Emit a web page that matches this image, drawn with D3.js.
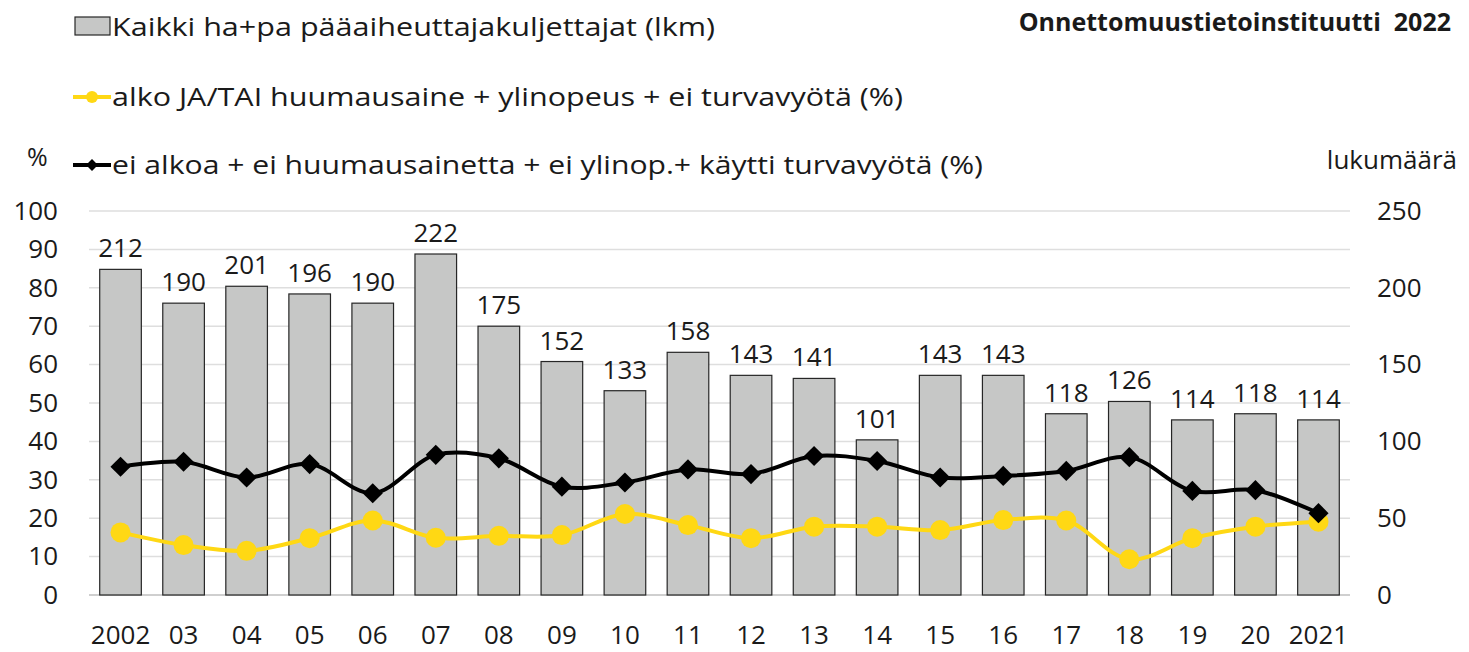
<!DOCTYPE html>
<html>
<head>
<meta charset="utf-8">
<script src="https://cdn.jsdelivr.net/npm/d3@7"></script>
<style>
  body { margin: 0; background: #fff; }
  text { font-family: "Open Sans", "Noto Sans", sans-serif; fill: #1a1a1a; }
</style>
</head>
<body>
<div id="chart"></div>
<script>
var years = ["2002", "03", "04", "05", "06", "07", "08", "09", "10", "11", "12", "13", "14", "15", "16", "17", "18", "19", "20", "2021"];
var counts = [212, 190, 201, 196, 190, 222, 175, 152, 133, 158, 143, 141, 101, 143, 143, 118, 126, 114, 118, 114];
var yellowPct = [16.3, 13.0, 11.5, 14.8, 19.4, 14.9, 15.4, 15.6, 21.1, 18.2, 14.8, 17.8, 17.8, 16.9, 19.5, 19.4, 9.3, 14.8, 17.8, 19.1];
var blackPct = [33.4, 34.7, 30.6, 34.1, 26.5, 36.5, 35.6, 28.2, 29.3, 32.7, 31.5, 36.2, 34.9, 30.6, 31.0, 32.3, 35.9, 27.1, 27.3, 21.3];
var leftTicks = [0, 10, 20, 30, 40, 50, 60, 70, 80, 90, 100];
var rightTicks = [0, 50, 100, 150, 200, 250];
var legendLabels = [
  "Kaikki ha+pa pääaiheuttajakuljettajat (lkm)",
  "alko JA/TAI huumausaine + ylinopeus + ei turvavyötä (%)",
  "ei alkoa + ei huumausainetta + ei ylinop.+ käytti turvavyötä (%)"
];

var fullwidth = 1469, fullheight = 652;
var margin = {top: 211, right: 119, bottom: 57, left: 89};
var width = fullwidth - margin.left - margin.right;
var height = fullheight - margin.top - margin.bottom;

var root = d3.select("#chart").append("svg")
  .attr("width", fullwidth)
  .attr("height", fullheight);

var svg = root.append("g")
  .attr("transform", "translate(" + margin.left + "," + margin.top + ")");

var xScale = d3.scaleBand().domain(years).range([0, width]).paddingInner(0.34).paddingOuter(0.17);
var yLeft = d3.scaleLinear().domain([0, 100]).range([height, 0]);
var yRight = d3.scaleLinear().domain([0, 250]).range([height, 0]);

var cx = function(i) { return xScale(years[i]) + xScale.bandwidth() / 2; };

// gridlines
svg.append("g").selectAll("line")
  .data(leftTicks)
  .enter().append("line")
  .attr("x1", 0).attr("x2", width)
  .attr("y1", function(d) { return yLeft(d); })
  .attr("y2", function(d) { return yLeft(d); })
  .attr("stroke", function(d) { return d === 0 ? "#bfbfbf" : "#dedede"; })
  .attr("stroke-width", 1.5);

// bars
svg.append("g").selectAll("rect")
  .data(counts)
  .enter().append("rect")
  .attr("x", function(d, i) { return xScale(years[i]); })
  .attr("width", xScale.bandwidth())
  .attr("y", function(d) { return yRight(d); })
  .attr("height", function(d) { return height - yRight(d); })
  .attr("fill", "#c6c7c6")
  .attr("stroke", "#262626")
  .attr("stroke-width", 1.2);

svg.append("g").selectAll("text")
  .data(counts)
  .enter().append("text")
  .attr("x", function(d, i) { return cx(i); })
  .attr("y", function(d) { return yRight(d) - 12; })
  .attr("text-anchor", "middle")
  .attr("font-size", 26)
  .text(function(d) { return d; });

// lines
var line = d3.line()
  .x(function(d, i) { return cx(i); })
  .y(function(d) { return yLeft(d); })
  .curve(d3.curveCatmullRom.alpha(0.5));

svg.append("path")
  .datum(yellowPct)
  .attr("d", line)
  .attr("fill", "none")
  .attr("stroke", "#ffd814")
  .attr("stroke-width", 4);

svg.append("g").selectAll("circle")
  .data(yellowPct)
  .enter().append("circle")
  .attr("cx", function(d, i) { return cx(i); })
  .attr("cy", function(d) { return yLeft(d); })
  .attr("r", 10)
  .attr("fill", "#ffd814");

svg.append("path")
  .datum(blackPct)
  .attr("d", line)
  .attr("fill", "none")
  .attr("stroke", "#000")
  .attr("stroke-width", 4);

var diamond = d3.symbol().type(d3.symbolDiamond2).size(260);
svg.append("g").selectAll("path")
  .data(blackPct)
  .enter().append("path")
  .attr("d", diamond)
  .attr("transform", function(d, i) { return "translate(" + cx(i) + "," + yLeft(d) + ")"; })
  .attr("fill", "#000");

// axes
var yAxisL = d3.axisLeft(yLeft).tickValues(leftTicks).tickSize(0).tickPadding(31);
var gL = svg.append("g").call(yAxisL);
gL.select(".domain").remove();
gL.selectAll("text").attr("font-size", 26).attr("fill", "#1a1a1a");

var yAxisR = d3.axisRight(yRight).tickValues(rightTicks).tickSize(0).tickPadding(27);
var gR = svg.append("g").attr("transform", "translate(" + width + ",0)").call(yAxisR);
gR.select(".domain").remove();
gR.selectAll("text").attr("font-size", 26).attr("fill", "#1a1a1a");

var xAxis = d3.axisBottom(xScale).tickSize(0).tickPadding(31);
var gX = svg.append("g").attr("transform", "translate(0," + height + ")").call(xAxis);
gX.select(".domain").remove();
gX.selectAll("text").attr("font-size", 26).attr("fill", "#1a1a1a");

// axis titles
root.append("text").attr("x", 27).attr("y", 166).attr("font-size", 25).text("%");
root.append("text").attr("x", 1457).attr("y", 169).attr("text-anchor", "end").attr("font-size", 26).text("lukumäärä");
root.append("text").attr("x", 1451).attr("y", 31).attr("text-anchor", "end")
  .attr("font-size", 25).attr("font-weight", "bold").attr("fill", "#000")
  .style("white-space", "pre")
  .text("Onnettomuustietoinstituutti  2022");

// legend
var legendY = [27, 97, 165];
var legendLen = [603, 791, 871];
var lg = root.append("g");
lg.append("rect").attr("x", 75).attr("y", 17).attr("width", 35).attr("height", 18)
  .attr("fill", "#c6c7c6").attr("stroke", "#262626").attr("stroke-width", 1.2);
lg.append("line").attr("x1", 73).attr("x2", 111).attr("y1", legendY[1]).attr("y2", legendY[1])
  .attr("stroke", "#ffd814").attr("stroke-width", 4);
lg.append("circle").attr("cx", 92).attr("cy", legendY[1]).attr("r", 6).attr("fill", "#ffd814");
lg.append("line").attr("x1", 73).attr("x2", 111).attr("y1", legendY[2]).attr("y2", legendY[2])
  .attr("stroke", "#000").attr("stroke-width", 4);
lg.append("path").attr("d", d3.symbol().type(d3.symbolDiamond2).size(90))
  .attr("transform", "translate(92," + legendY[2] + ")").attr("fill", "#000");
lg.selectAll("text.leg")
  .data(legendLabels)
  .enter().append("text")
  .attr("class", "leg")
  .attr("x", 112)
  .attr("y", function(d, i) { return legendY[i] + 9; })
  .attr("font-size", 25)
  .attr("textLength", function(d, i) { return legendLen[i]; })
  .attr("lengthAdjust", "spacingAndGlyphs")
  .text(function(d) { return d; });
</script>
</body>
</html>
